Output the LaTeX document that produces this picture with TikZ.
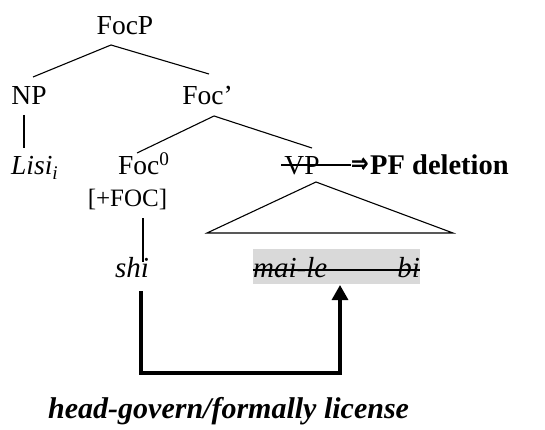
\documentclass[tikz,border=0pt]{standalone}
\usepackage{fontspec}
\setmainfont{Liberation Serif}
\newfontfamily\arrowfont[FakeBold=3]{DejaVu Sans}
\usetikzlibrary{arrows.meta,calc}
\definecolor{boxgray}{RGB}{217,217,217}
\newcommand{\fsz}[1]{\fontsize{#1}{#1}\selectfont}
\begin{document}
\begin{tikzpicture}[x=1pt,y=-1pt,
  lbl/.style={inner sep=0pt, font=\fsz{27.5}},
  word/.style={inner sep=0pt, font=\fsz{29}\itshape},
  branch/.style={line width=1.1pt},
  license/.style={line width=3.2pt, line join=miter, -{Triangle[width=16pt,length=15pt]}}]
\useasboundingbox (0,0) rectangle (545,430);

% category labels
\node[lbl, anchor=base] (focp) at (125,35) {FocP};
\node[lbl, anchor=base] (np) at (29,105) {NP};
\node[lbl, anchor=base] (focbar) at (207.5,105) {Foc’};
\node[lbl, anchor=base west] (lisi) at (11,175) {\textit{Lisi}\textsubscript{\textit{i}}};
\node[lbl, anchor=base west] (foc0) at (118,175) {Foc\textsuperscript{0}};
\node[lbl, anchor=base] (vp) at (302,175) {VP};
\node[inner sep=0pt, anchor=west] (dbl) at (351,165) {\resizebox{17pt}{14pt}{\fsz{10}\arrowfont ⇒}};
\node[inner sep=0pt, anchor=base west, font=\fsz{28.5}\bfseries] (pf) at (370,175) {PF deletion};
\node[inner sep=0pt, anchor=base, font=\fsz{25}] (feat) at (127.5,206) {[+FOC]};
\node[word, anchor=base west] (shi) at (115,277) {shi};

% deleted material under VP
\node[fill=boxgray, inner sep=0pt, minimum width=167pt, minimum height=35pt] (del) at (336.5,266.5) {};
\node[word, anchor=base west] (maile) at (253,277) {mai-le};
\node[word, anchor=base east] (bi) at (420,277) {bi};
\draw[line width=1.3pt] ($(del.west)+(0,3.5)$) -- ($(del.east)+(0,3.5)$);

% strike through VP
\coordinate (vpstrike) at (281,165);
\draw[line width=1.3pt] (vpstrike) -- (dbl.west |- vpstrike);

% branches
\coordinate (focp-b) at (111,45);
\coordinate (np-t) at (33,77);
\coordinate (focbar-t) at (209,74);
\coordinate (focbar-b) at (214,116);
\coordinate (foc0-t) at (137,153);
\coordinate (vp-t) at (312,148);
\coordinate (np-b) at (24,115);
\coordinate (lisi-t) at (24,148);
\coordinate (feat-b) at (143,218);
\coordinate (shi-t) at (143,262);
\draw[branch] (np-t) -- (focp-b) -- (focbar-t);
\draw[branch] (foc0-t) -- (focbar-b) -- (vp-t);
\draw[branch] (np-b) -- (lisi-t);
\draw[branch] (feat-b) -- (shi-t);

% VP triangle
\coordinate (tri-top) at (316,182);
\coordinate (tri-l) at (207,233);
\coordinate (tri-r) at (453,233);
\draw[branch] (tri-top) -- (tri-l) -- (tri-r) -- cycle;

% licensing arrow
\coordinate (src) at (141,291);
\coordinate (low) at (240,373);
\coordinate (dst) at (340,285);
\draw[license] (src) |- (low) -| (dst);

\node[inner sep=0pt, anchor=base west, font=\fsz{30}\bfseries\itshape] (lic) at (48,418) {head-govern/formally license};
\end{tikzpicture}
\end{document}
